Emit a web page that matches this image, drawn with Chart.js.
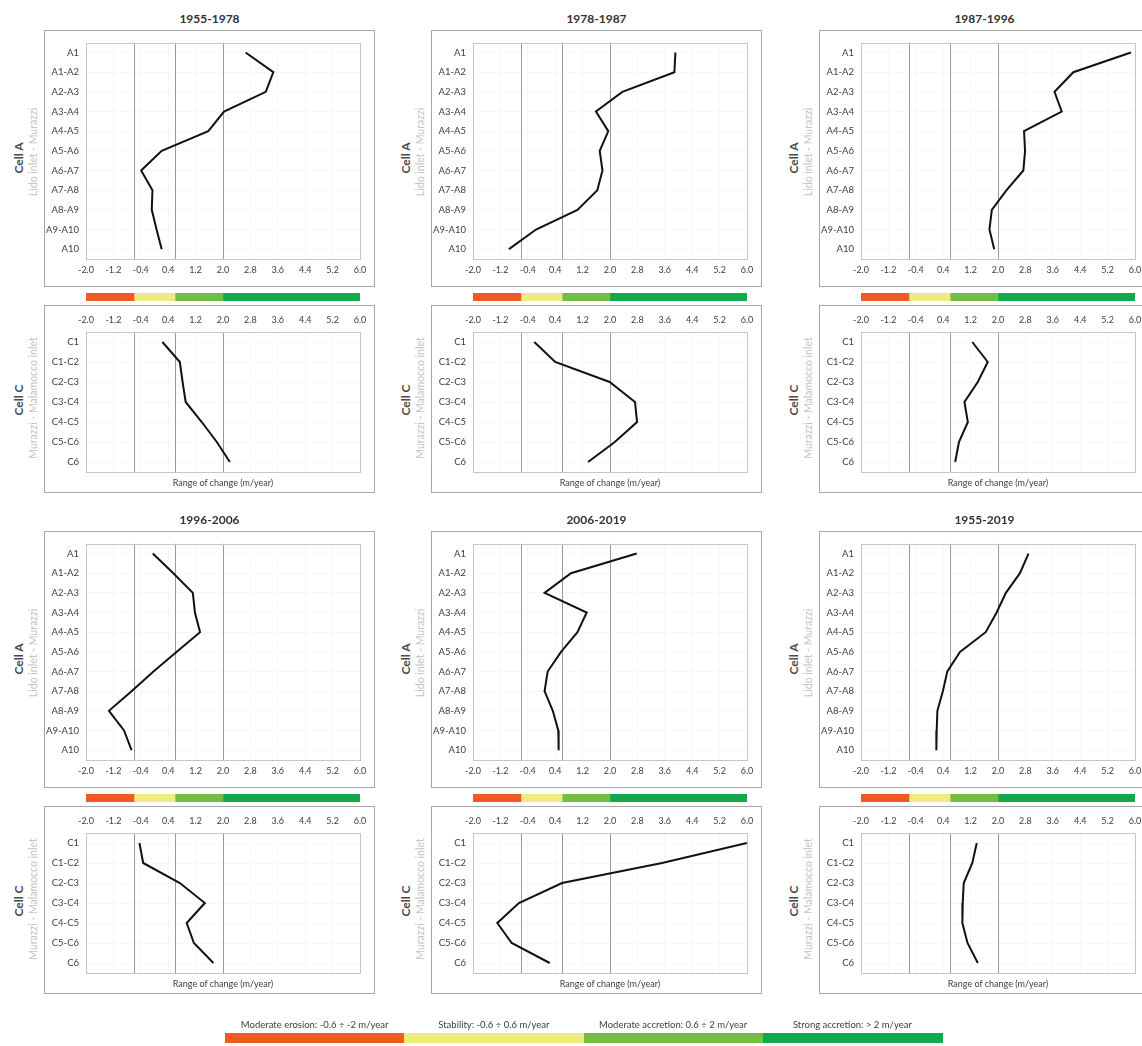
<!DOCTYPE html>
<html><head><meta charset="utf-8">
<script src="https://cdn.jsdelivr.net/npm/chart.js@4.4.0/dist/chart.umd.min.js"></script>
<style>
html,body{margin:0;padding:0;background:#fff}
body{width:1142px;height:1046px;position:relative;overflow:hidden;font-family:Lato,'Open Sans',sans-serif;color:#404040}
.box{position:absolute;border:1px solid #a6a6a6;box-sizing:border-box;background:#fff}
.cv{position:absolute;display:block}
.ptitle{position:absolute;font-weight:bold;font-size:12px;color:#333;transform:translate(-50%,-50%);white-space:nowrap}
.ytl{position:absolute;white-space:nowrap;transform:translate(-50%,-50%) rotate(-90deg)}
.ytl.main{font-weight:bold;font-size:12px;color:#4a4a4a}
.ytl.sub{font-size:10.5px;color:#c4c4c4}
.xlab{position:absolute;font-size:9px;color:#404040;white-space:nowrap;transform:translate(-50%,-50%)}
.legtxt{position:absolute;font-size:9.5px;color:#404040;white-space:nowrap;transform:translate(-50%,-50%)}
.legbar{position:absolute}
</style></head><body>
<script>
// ---------- data ----------
const periods = ['1955-1978','1978-1987','1987-1996','1996-2006','2006-2019','1955-2019'];
const cellAStations = ['A1','A1-A2','A2-A3','A3-A4','A4-A5','A5-A6','A6-A7','A7-A8','A8-A9','A9-A10','A10'];
const cellCStations = ['C1','C1-C2','C2-C3','C3-C4','C4-C5','C5-C6','C6'];
const xTicks = [-2.0,-1.2,-0.4,0.4,1.2,2.0,2.8,3.6,4.4,5.2,6.0];
const thresholds = [-0.6, 0.6, 2.0];
const classBounds = [-2.0, -0.6, 0.6, 2.0, 6.0];
const classColors = ['#f15a22','#eeec80','#72bd46','#12a84b'];
const classNames = ['Moderate erosion: -0.6 ÷ -2 m/year','Stability: -0.6 ÷ 0.6 m/year','Moderate accretion: 0.6 ÷ 2 m/year','Strong accretion: > 2 m/year'];
const cellAName = 'Cell A', cellASub = 'Lido inlet - Murazzi';
const cellCName = 'Cell C', cellCSub = 'Murazzi - Malamocco inlet';
const xTitle = 'Range of change (m/year)';

const cellA_1955_1978 = [2.66,3.47,3.25,2.03,1.57,0.21,-0.39,-0.06,-0.08,0.06,0.21];
const cellC_1955_1978 = [0.23,0.74,0.82,0.91,1.38,1.82,2.20];
const cellA_1978_1987 = [3.91,3.88,2.36,1.59,1.95,1.70,1.78,1.63,1.05,-0.16,-0.95];
const cellC_1978_1987 = [-0.21,0.40,1.99,2.73,2.79,2.14,1.36];
const cellA_1987_1996 = [5.88,4.20,3.65,3.86,2.76,2.79,2.74,2.25,1.82,1.75,1.89];
const cellC_1987_1996 = [1.25,1.70,1.41,1.02,1.12,0.86,0.75];
const cellA_1996_2006 = [-0.05,0.55,1.12,1.18,1.33,0.65,-0.03,-0.67,-1.33,-0.89,-0.67];
const cellC_1996_2006 = [-0.44,-0.33,0.74,1.47,0.94,1.15,1.72];
const cellA_2006_2019 = [2.78,0.86,0.09,1.32,1.05,0.57,0.18,0.09,0.33,0.49,0.50];
const cellC_2006_2019 = [6.00,3.52,0.60,-0.66,-1.29,-0.87,0.24];
const cellA_1955_2019 = [2.89,2.64,2.23,1.96,1.64,0.89,0.52,0.39,0.23,0.21,0.20];
const cellC_1955_2019 = [1.38,1.25,1.00,0.97,0.96,1.11,1.41];

const cellASeries = [cellA_1955_1978,cellA_1978_1987,cellA_1987_1996,cellA_1996_2006,cellA_2006_2019,cellA_1955_2019];
const cellCSeries = [cellC_1955_1978,cellC_1978_1987,cellC_1987_1996,cellC_1996_2006,cellC_2006_2019,cellC_1955_2019];

// ---------- layout ----------
const FONT = "Lato, 'Open Sans', sans-serif";
const colBoxLeft = [44, 431, 819];
const rowTop = [0, 501];
const BOX_W = 331, YAX_W = 42, PLOT_W = 274;

function el(cls, css, text){
  const d = document.createElement('div');
  d.className = cls;
  Object.assign(d.style, css);
  if (text !== undefined) d.textContent = text;
  document.body.appendChild(d);
  return d;
}
function canvasAt(l,t,w,h){
  const c = document.createElement('canvas');
  c.className='cv'; c.width=w; c.height=h;
  c.style.left=l+'px'; c.style.top=t+'px'; c.style.width=w+'px'; c.style.height=h+'px';
  document.body.appendChild(c);
  return c;
}

const refPlugin = {
  id:'refLines',
  beforeDatasetsDraw(chart){
    const {ctx, chartArea:a, scales:{x}} = chart;
    ctx.save();
    ctx.strokeStyle='#9a9a9a'; ctx.lineWidth=1;
    thresholds.forEach(t=>{
      const px = Math.round(x.getPixelForValue(t))+0.5;
      ctx.beginPath(); ctx.moveTo(px,a.top); ctx.lineTo(px,a.bottom); ctx.stroke();
    });
    ctx.strokeStyle='#c6c6c6';
    ctx.strokeRect(Math.round(a.left)+0.5, Math.round(a.top)+0.5, Math.round(a.width), Math.round(a.height));
    ctx.restore();
  }
};

function lineChart(cv, labels, values, isC){
  return new Chart(cv, {
    type:'line',
    data:{labels, datasets:[{data:values, borderColor:'#111', borderWidth:2, pointRadius:0, fill:false, tension:0}]},
    options:{
      indexAxis:'y', responsive:false, animation:false, events:[],
      layout:{padding: isC ? {top:7,right:15,bottom:21,left:0} : {top:8,right:15,bottom:4,left:0}},
      plugins:{legend:{display:false}, tooltip:{enabled:false}, title:{display:false}},
      scales:{
        x:{type:'linear', position:isC?'top':'bottom', min:-2, max:6,
           afterBuildTicks:s=>{ s.ticks = xTicks.map(v=>({value:v})); },
           afterFit:s=>{ s.height = isC?20:24; },
           ticks:{callback:v=>Number(v).toFixed(1), font:{family:FONT,size:9}, color:'#404040', padding:isC?7:6, maxRotation:0, autoSkip:false},
           grid:{color:'#f7f7f7', drawTicks:false}, border:{display:false}},
        y:{type:'category', offset:true,
           afterFit:s=>{ s.width = YAX_W; },
           ticks:{font:{family:FONT,size:9.5}, color:'#404040', padding:7, autoSkip:false},
           grid:{color:'#f8f8f8', drawTicks:false, offset:false}, border:{display:false}}
      }
    },
    plugins:[refPlugin]
  });
}

function classBar(cv){
  return new Chart(cv, {
    type:'bar',
    data:{labels:['class'], datasets: classColors.map((c,i)=>({
      data:[[classBounds[i], classBounds[i+1]]], backgroundColor:c, borderWidth:0,
      grouped:false, barPercentage:1, categoryPercentage:1 }))},
    options:{indexAxis:'y', responsive:false, animation:false, events:[],
      layout:{padding:0},
      plugins:{legend:{display:false}, tooltip:{enabled:false}},
      scales:{x:{display:false, min:-2, max:6}, y:{display:false}}}
  });
}

periods.forEach((p,i)=>{
  const col = i%3, row = Math.floor(i/3);
  const L = colBoxLeft[col], T = rowTop[row];
  const plotL = L + YAX_W;
  el('ptitle', {left:(L+BOX_W/2)+'px', top:(T+18)+'px'}, p);
  el('box', {left:L+'px', top:(T+30)+'px', width:BOX_W+'px', height:'257px'});
  el('ytl main', {left:(L-26)+'px', top:(T+158)+'px'}, cellAName);
  el('ytl sub', {left:(L-11)+'px', top:(T+152)+'px'}, cellASub);
  lineChart(canvasAt(L, T+30, BOX_W, 257), cellAStations, cellASeries[i], false);
  classBar(canvasAt(plotL, T+293, PLOT_W, 8));
  el('box', {left:L+'px', top:(T+305)+'px', width:BOX_W+'px', height:'188px'});
  el('ytl main', {left:(L-26)+'px', top:(T+400)+'px'}, cellCName);
  el('ytl sub', {left:(L-11)+'px', top:(T+398)+'px'}, cellCSub);
  lineChart(canvasAt(L, T+305, BOX_W, 188), cellCStations, cellCSeries[i], true);
  el('xlab', {left:(plotL+PLOT_W/2)+'px', top:(T+482)+'px'}, xTitle);
});

// bottom legend
const LEG_L = 225, LEG_SEG = 179.25, LEG_T = 1033;
classNames.forEach((n,i)=>{
  el('legtxt', {left:(LEG_L + LEG_SEG*(i+0.5))+'px', top:'1024px'}, n);
  el('legbar', {left:(LEG_L + LEG_SEG*i)+'px', top:LEG_T+'px', width:(LEG_SEG+0.5)+'px', height:'10px', background:classColors[i]});
});
</script>
</body></html>
